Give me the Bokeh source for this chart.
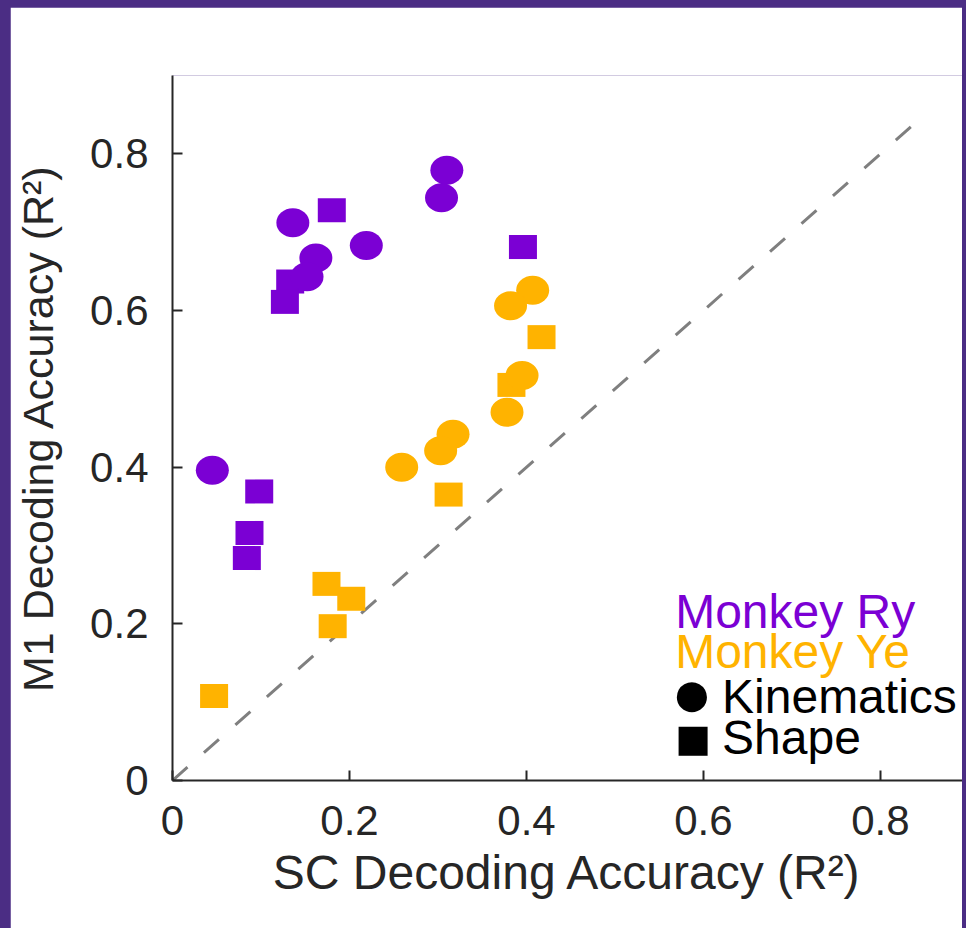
from bokeh.embed import file_html
from bokeh.models import FixedTicker, Label, Range1d
from bokeh.plotting import figure
from bokeh.resources import INLINE

# Decoding accuracy (R²): superior colliculus (x) versus M1 (y), per session
ry_kin_sc = [0.310, 0.304, 0.136, 0.219, 0.162, 0.152, 0.045]
ry_kin_m1 = [0.779, 0.744, 0.712, 0.683, 0.667, 0.643, 0.396]
ry_shape_sc = [0.180, 0.396, 0.133, 0.127, 0.098, 0.087, 0.084]
ry_shape_m1 = [0.728, 0.681, 0.637, 0.611, 0.369, 0.316, 0.284]

ye_kin_sc = [0.407, 0.382, 0.395, 0.378, 0.317, 0.303, 0.259]
ye_kin_m1 = [0.626, 0.606, 0.517, 0.470, 0.442, 0.421, 0.400]
ye_shape_sc = [0.417, 0.383, 0.312, 0.174, 0.202, 0.181, 0.047]
ye_shape_m1 = [0.566, 0.505, 0.365, 0.251, 0.232, 0.197, 0.108]

tick_values = [0, 0.2, 0.4, 0.6, 0.8]
tick_labels = ["0", "0.2", "0.4", "0.6", "0.8"]
identity_line = [0, 0.85]

PURPLE = "#7B00D4"
ORANGE = "#FFB300"
INK = "#262626"
FRAME = "#4B2D84"
FONT = "Liberation Sans"

p = figure(
    width=952,
    height=921,
    x_range=Range1d(0, 0.8927),
    y_range=Range1d(0, 0.9),
    output_backend="svg",
    toolbar_location=None,
    min_border_left=162,
    min_border_right=0,
    min_border_top=68,
    min_border_bottom=148,
    x_axis_label="SC Decoding Accuracy (R²)",
    y_axis_label="M1 Decoding Accuracy (R²)",
)
p.outline_line_color = None
p.grid.visible = False
p.background_fill_color = "white"
p.border_fill_color = "white"

for ax in (p.xaxis[0], p.yaxis[0]):
    ax.ticker = FixedTicker(ticks=tick_values)
    ax.major_label_overrides = dict(zip(tick_values, tick_labels))
    ax.minor_tick_line_color = None
    ax.major_tick_in = 10
    ax.major_tick_out = 0
    ax.major_tick_line_width = 2
    ax.major_tick_line_color = INK
    ax.axis_line_width = 2
    ax.axis_line_color = INK
    ax.major_label_text_font = FONT
    ax.major_label_text_font_size = "42px"
    ax.major_label_text_color = INK
    ax.axis_label_text_font = FONT
    ax.axis_label_text_font_style = "normal"
    ax.axis_label_text_color = INK
p.xaxis.major_label_standoff = 25
p.yaxis.major_label_standoff = 24
p.xaxis.axis_label_text_font_size = "48px"
p.xaxis.axis_label_standoff = 8
p.yaxis.axis_label_text_font_size = "43px"
p.yaxis.axis_label_standoff = 25

# identity line
p.line(identity_line, identity_line, line_color="#7F7F7F", line_width=3,
       line_dash="20 22")

# shape decoding (squares) then kinematics decoding (circles)
p.rect(x=ry_shape_sc, y=ry_shape_m1, width=28, height=24,
       width_units="screen", height_units="screen",
       fill_color=PURPLE, line_color=None)
p.rect(x=ye_shape_sc, y=ye_shape_m1, width=28, height=24,
       width_units="screen", height_units="screen",
       fill_color=ORANGE, line_color=None)
p.ellipse(x=ry_kin_sc, y=ry_kin_m1, width=33, height=29,
          width_units="screen", height_units="screen",
          fill_color=PURPLE, line_color=None)
p.ellipse(x=ye_kin_sc, y=ye_kin_m1, width=33, height=29,
          width_units="screen", height_units="screen",
          fill_color=ORANGE, line_color=None)


def text(**kw):
    base = dict(text_font=FONT, text_color="black", text_baseline="alphabetic",
                text_align="left", text_font_size="48px")
    base.update(kw)
    p.add_layout(Label(**base))


# key: monkeys by colour, decoded variable by marker
text(x=0.568, y=0.216, text="Monkey Ry", text_color=PURPLE)
text(x=0.568, y=0.165, text="Monkey Ye", text_color=ORANGE)
text(x=0.587, y=0.112, text="●", text_align="center", text_baseline="middle",
     text_font_size="70px")
text(x=0.621, y=0.107, text="Kinematics")
text(x=0.588, y=0.054, text="■", text_align="center", text_baseline="middle",
     text_font_size="60px")
text(x=0.621, y=0.055, text="Shape")

html = file_html(p, INLINE, title="SC vs M1 decoding accuracy")
html = html.replace(
    "</head>",
    "<style>html,body{margin:0;background:%s;}body{padding:7px 0 0 10px;}</style></head>" % FRAME,
    1,
)
with open("out.html", "w") as f:
    f.write(html)
